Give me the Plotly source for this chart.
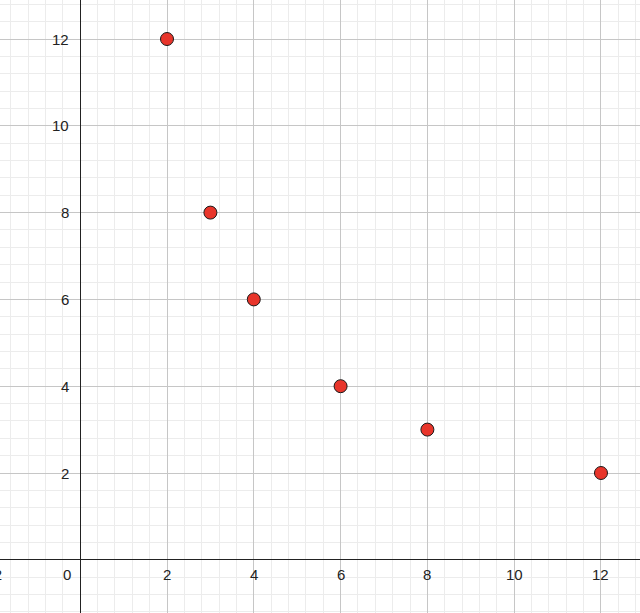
import plotly.graph_objects as go

x_vals = [2, 3, 4, 6, 8, 12]
y_vals = [12, 8, 6, 4, 3, 2]

x_ticks = [-2, 2, 4, 6, 8, 10, 12]
y_ticks = [2, 4, 6, 8, 10, 12]

label_font = {"family": "Liberation Sans, Arial, sans-serif", "size": 15, "color": "#222222"}

# the figure is 20px wider than the window and shifted left, so the
# partly hidden "-2" label at the left edge still gets drawn
EXTRA_LEFT = 20

fig = go.Figure()

fig.add_trace(
    go.Scatter(
        x=x_vals,
        y=y_vals,
        mode="markers",
        marker={"size": 13, "color": "#e8352b", "line": {"color": "#1a1a1a", "width": 1}},
        hoverinfo="x+y",
    )
)

annotations = [dict(x=0, y=0, text="0", showarrow=False, xanchor="right",
                    xshift=-7, yshift=-15, font=label_font)]
for t in x_ticks:
    annotations.append(dict(x=t, y=0, text=str(t).replace("-", "\u2212"), showarrow=False,
                            yshift=-15, font=label_font))
for t in y_ticks:
    annotations.append(dict(x=0, y=t, text=str(t), showarrow=False, xanchor="right",
                            xshift=-9, font=label_font))

axis_common = dict(
    showticklabels=False,
    ticks="",
    showgrid=True,
    gridcolor="#c6c6c6",
    gridwidth=1,
    zeroline=True,
    zerolinecolor="#222222",
    zerolinewidth=1.3,
    showline=False,
    fixedrange=True,
    minor=dict(dtick=0.4, tick0=0, showgrid=True, gridcolor="#ececec", gridwidth=1),
)

fig.update_layout(
    width=640 + EXTRA_LEFT,
    height=613,
    margin={"l": 0, "r": 0, "t": 0, "b": 0},
    plot_bgcolor="#ffffff",
    paper_bgcolor="#ffffff",
    showlegend=False,
    annotations=annotations,
    xaxis=dict(range=[-1.848 - EXTRA_LEFT / 43.4, 12.899], dtick=2, tick0=0, **axis_common),
    yaxis=dict(range=[-1.226, 12.899], dtick=2, tick0=0, **axis_common),
)

fig.write_html(
    "out.html",
    config={"displayModeBar": False},
    post_script=(
        "document.body.style.margin='0';document.body.style.overflow='hidden';"
        f"document.getElementById('{{plot_id}}').style.marginLeft='-{EXTRA_LEFT}px';"
    ),
)
